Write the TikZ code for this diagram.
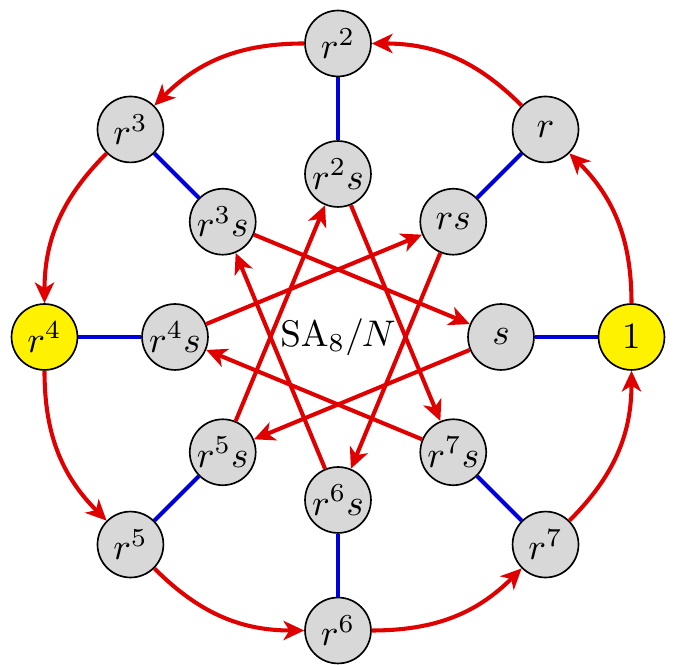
\documentclass[tikz,border=0pt]{standalone}
\usetikzlibrary{arrows.meta}
\definecolor{myred}{RGB}{225,0,0}
\definecolor{myblue}{RGB}{0,0,220}
\definecolor{mygray}{RGB}{216,216,216}
\definecolor{myyellow}{RGB}{255,242,0}
\tikzset{
  elem/.style={circle,draw=black,line width=0.45pt,fill=mygray,minimum size=17.8pt,inner sep=0pt},
  idelem/.style={elem,fill=myyellow},
  rarr/.style={draw=myred,line width=1.1pt,-{Stealth[length=5.6pt,width=5.2pt,inset=1.6pt]}},
  bline/.style={draw=myblue,line width=1.1pt}
}
\begin{document}
\begin{tikzpicture}[x=0.27pt,y=0.27pt]
\useasboundingbox (-338,-328) rectangle (340,337);
% outer nodes
\node[idelem] (o0) at (0:293.5) {$1$};
\node[elem] (o1) at (45:293.5) {$r$};
\node[elem] (o2) at (90:293.5) {$r^2$};
\node[elem] (o3) at (135:293.5) {$r^3$};
\node[idelem] (o4) at (180:293.5) {$r^4$};
\node[elem] (o5) at (225:293.5) {$r^5$};
\node[elem] (o6) at (270:293.5) {$r^6$};
\node[elem] (o7) at (315:293.5) {$r^7$};
% inner nodes
\node[elem] (i0) at (0:163) {$s$};
\node[elem] (i1) at (45:163) {$rs$};
\node[elem] (i2) at (90:163) {$r^2s$};
\node[elem] (i3) at (135:163) {$r^3s$};
\node[elem] (i4) at (180:163) {$r^4s$};
\node[elem] (i5) at (225:163) {$r^5s$};
\node[elem] (i6) at (270:163) {$r^6s$};
\node[elem] (i7) at (315:163) {$r^7s$};
\node (c) at (0,0) {$\mathrm{SA}_8/N$};
% blue lines
\foreach \k in {0,...,7} {
  \draw[bline] (o\k) -- (i\k);
}
% outer arcs
\foreach \k [evaluate=\k as \n using {int(mod(\k+1,8))}] in {0,...,7} {
  \draw[rarr] (o\k) to[bend right=22.5] (o\n);
}
% inner arrows
\foreach \k [evaluate=\k as \n using {int(mod(\k+5,8))}] in {0,...,7} {
  \draw[rarr] (i\k) -- (i\n);
}
\end{tikzpicture}
\end{document}
